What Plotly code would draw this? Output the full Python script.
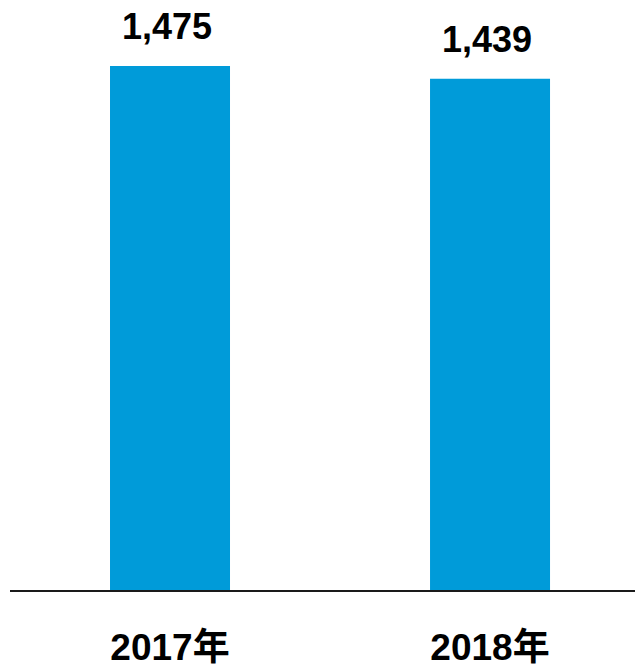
import plotly.graph_objects as go

categories = ["2017年", "2018年"]
values = [1475, 1439]
value_labels = ["1,475", "1,439"]

fig = go.Figure()
fig.add_trace(go.Bar(
    x=categories, y=values, width=0.375,
    marker=dict(color="#009BD9", line=dict(width=0)),
    hoverinfo="skip",
))
for c, v, t in zip(categories, values, value_labels):
    fig.add_annotation(x=c, y=v, text=f"<b>{t}</b>", showarrow=False,
                       yanchor="bottom", yshift=17, xshift=-3,
                       font=dict(size=36, color="#000000",
                                 family="Liberation Sans, Arial, Noto Sans CJK SC"))

fig.update_layout(
    width=643, height=667,
    margin=dict(l=2, r=0, t=0, b=85),
    paper_bgcolor="white", plot_bgcolor="white",
    showlegend=False,
    xaxis=dict(
        type="category", range=[-0.5, 1.503],
        showline=True, linecolor="#1a1a1a", linewidth=1.5,
        ticks="", showgrid=False, zeroline=False,
        tickfont=dict(size=37, color="#000000",
                      family="Liberation Sans, Arial, Noto Sans CJK SC", weight="bold"),
        ticklabelstandoff=24,
    ),
    yaxis=dict(range=[0, 1638], visible=False, showgrid=False, zeroline=False),
)
fig.write_html("out.html")
